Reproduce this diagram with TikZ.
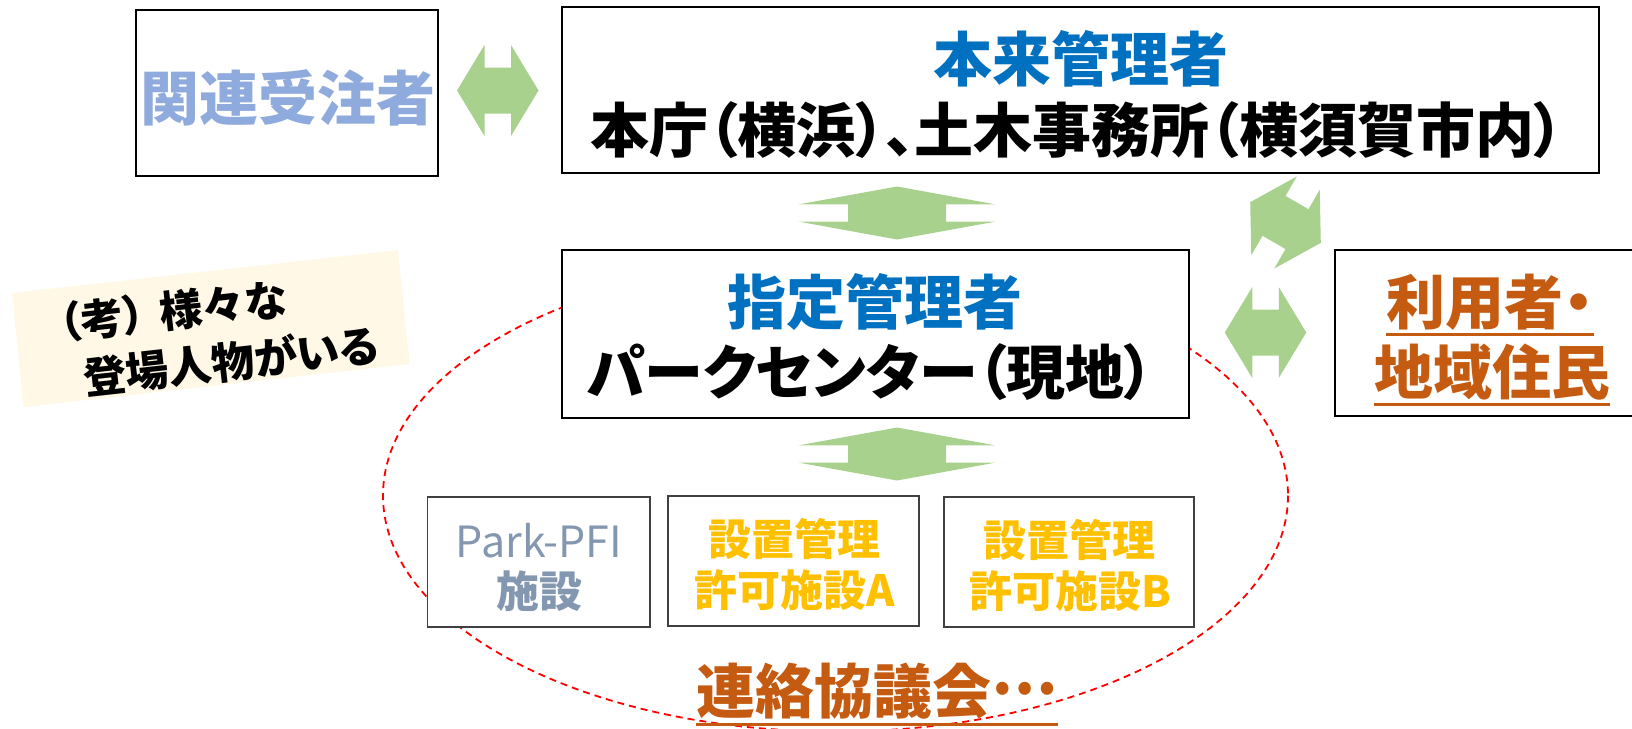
\documentclass[tikz,border=0pt]{standalone}
\usepackage{fontspec}
\setmainfont{Noto Sans CJK JP}[RawFeature=+palt]
\definecolor{agreen}{HTML}{A9D18E}
\definecolor{tblue}{HTML}{0070C0}
\definecolor{lblue}{HTML}{8FAADC}
\definecolor{pgray}{HTML}{8497B0}
\definecolor{gold}{HTML}{FFC000}
\definecolor{rust}{HTML}{C55A11}
\definecolor{notefill}{HTML}{FFF8E7}
\definecolor{boxline}{HTML}{404040}
\tikzset{
  lrarrow/.pic={\fill[agreen] (-40.75,0) -- (-13.25,-45.5) -- (-13.25,-23) -- (13.25,-23) -- (13.25,-45.5) -- (40.75,0) -- (13.25,45.5) -- (13.25,23) -- (-13.25,23) -- (-13.25,45.5) -- cycle;},
  udarrow/.pic={\fill[agreen] (0,-26.5) -- (98,-8.7) -- (49,-8.7) -- (49,8.7) -- (98,8.7) -- (0,26.5) -- (-98,8.7) -- (-49,8.7) -- (-49,-8.7) -- (-98,-8.7) -- cycle;},
}
\begin{document}
\begin{tikzpicture}[x=0.5pt,y=-0.5pt,
  box/.style={draw=black, line width=0.9pt, fill=white, rectangle, inner sep=0pt},
  subbox/.style={draw=boxline, line width=0.9pt, fill=white, rectangle, inner sep=0pt, minimum height=65pt},
  bigtxt/.style={inner sep=0pt, font=\fontsize{29.5}{35.5}\selectfont\bfseries},
  subtxt/.style={inner sep=0pt, font=\fontsize{21.5}{25}\selectfont\bfseries},
  dashring/.style={draw=red, line width=0.9pt, dash pattern=on 3.5pt off 2.5pt},
  uline/.style={draw=rust, line width=1.5pt},
]
\useasboundingbox (0,0) rectangle (1632,728);
\clip (0,0) rectangle (1632,728);

% dashed ring round the site
\draw[dashring] (835.5,495.5) ellipse [x radius=452.5, y radius=236];

% note
\fill[notefill] (12,293) -- (398,250) -- (409.6,364) -- (23.6,407) -- cycle;
\node[inner sep=0pt, rotate=6.36, align=left, font=\fontsize{21.5}{28.5}\selectfont\bfseries] (note) at (218.8,334.2)
  {（考）\hspace{0.35em}様々な\\\hspace{9pt}登場人物がいる};

% boxes
\node[box, minimum width=151pt, minimum height=83pt] (kanren) at (287,93) {};
\node[bigtxt, text=lblue] (kanrenT) at (288,98) {関連受注者};

\node[box, minimum width=518.5pt, minimum height=83pt] (honrai) at (1080.5,90) {};
\node[bigtxt, text=tblue] (honrai1) at (1080.5,59) {本来管理者};
\node[bigtxt] (honrai2) at (1077,130.5) {本庁（横浜）、土木事務所（横須賀市内）};

\node[box, minimum width=313.5pt, minimum height=84pt] (shitei) at (875.5,334) {};
\node[bigtxt, text=tblue] (shitei1) at (875,302) {指定管理者};
\node[bigtxt] (shitei2) at (870.6,372) {パークセンター（現地）};

\node[box, minimum width=157.5pt, minimum height=83.25pt] (riyou) at (1492.5,333) {};
\node[bigtxt, text=rust] (riyou1) at (1490,302) {利用者・};
\node[bigtxt, text=rust] (riyou2) at (1492,372) {地域住民};
\draw[uline] ([yshift=-2pt]riyou1.south west) -- ([yshift=-2pt]riyou1.south east);
\draw[uline] ([yshift=-2pt]riyou2.south west) -- ([yshift=-2pt]riyou2.south east);

\node[subbox, minimum width=111.25pt] (pfi) at (538.75,562) {};
\node[subtxt, text=pgray, font=\fontsize{21.5}{25}\selectfont] (pfi1) at (539,541) {Park-PFI};
\node[subtxt, text=pgray] (pfi2) at (539,591) {施設};

\node[subbox, minimum width=125.5pt] (facA) at (793.5,561) {};
\node[subtxt, text=gold] (facA1) at (794,539) {設置管理};
\node[subtxt, text=gold] (facA2) at (795,590.5) {許可施設A};

\node[subbox, minimum width=125pt] (facB) at (1069,562) {};
\node[subtxt, text=gold] (facB1) at (1069,540) {設置管理};
\node[subtxt, text=gold] (facB2) at (1070,591.5) {許可施設B};

\node[bigtxt, text=rust] (renraku) at (877,691.5) {連絡協議会\raisebox{0.33em}{…}};
\draw[uline] ([yshift=-2pt]renraku.south west) -- ([yshift=-2pt]renraku.south east);

% block arrows
\pic at (497.75,90.5) {lrarrow};
\pic at (1265.5,332.5) {lrarrow};
\pic[rotate=-30] at (1285.5,222.5) {lrarrow};
\pic at (897,213) {udarrow};
\pic at (897,454) {udarrow};
\end{tikzpicture}
\end{document}
